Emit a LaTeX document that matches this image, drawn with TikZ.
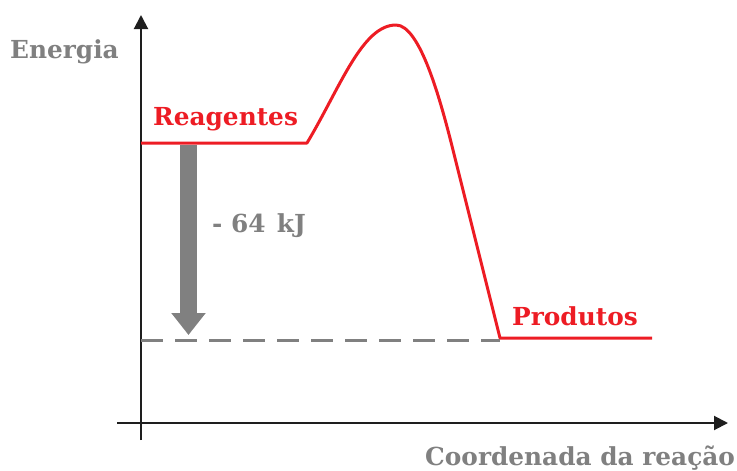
\documentclass[tikz,border=0pt]{standalone}
\usepackage{fontspec}
\setmainfont{DejaVu Serif}
\usetikzlibrary{arrows.meta}
\definecolor{cred}{RGB}{237,28,36}
\definecolor{cgray}{RGB}{128,128,128}
\definecolor{caxis}{RGB}{30,30,30}
\tikzset{
  axisline/.style={draw=caxis, line width=2pt, -{Triangle[length=14pt,width=14pt]}},
  curveline/.style={draw=cred, line width=3pt, line join=round},
  lbl/.style={inner sep=0pt, anchor=base west, font=\bfseries\fontsize{24.8}{28}\selectfont},
  redlbl/.style={lbl, text=cred},
  graylbl/.style={lbl, text=cgray},
}
\begin{document}
\begin{tikzpicture}[x=1pt,y=-1pt]
\useasboundingbox (0,0) rectangle (737,471);
% coordinates
\coordinate (yb) at (141,440);
\coordinate (yt) at (141,15);
\coordinate (xl) at (117,423);
\coordinate (xr) at (728,423);
\coordinate (r0) at (141,143);
\coordinate (r1) at (307,143);
\coordinate (pk) at (396,25);
\coordinate (dn) at (453,150);
\coordinate (p0) at (500,338);
\coordinate (p1) at (652,338);
\coordinate (d0) at (141,340);
\coordinate (d1) at (500,340);
\coordinate (a0) at (188.5,145);
\coordinate (a1) at (188.5,335);
% axes
\draw[axisline] (yb) -- (yt);
\draw[axisline] (xl) -- (xr);
% dashed level
\draw[cgray, line width=3pt, dash pattern=on 22pt off 12pt] (d0) -- (d1);
% energy change arrow
\draw[cgray, line width=17pt, -{Triangle[length=22pt,width=33pt]}] (a0) -- (a1);
% curve
\draw[curveline] (r0) -- (r1) .. controls (340,88) and (362,25) .. (pk)
  .. controls (420,25) and (440.5,100) .. (dn) -- (p0) -- (p1);
% labels
\node[graylbl] (en) at (10,58) {Energia};
\node[redlbl] (re) at (153,125) {Reagentes};
\node[graylbl] (dh) at (212,232) {-\hspace{0.35em}64\hspace{0.45em}kJ};
\node[redlbl] (pr) at (512,325) {Produtos};
\node[graylbl] (co) at (425,465) {Coordenada da reação};
\end{tikzpicture}
\end{document}
